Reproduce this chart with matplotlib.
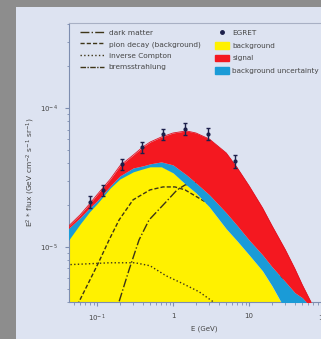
import numpy as np
import matplotlib
matplotlib.use("Agg")
import matplotlib.pyplot as plt
from matplotlib.patches import Rectangle, Patch
from matplotlib.lines import Line2D
from matplotlib.ticker import LogLocator, NullFormatter

# energy grid (GeV) and the three stacked bands
energy = [0.04, 0.06, 0.08, 0.1, 0.15, 0.2, 0.3, 0.4, 0.5, 0.7, 1, 1.5, 2, 3, 5, 7,
          10, 15, 20, 30, 40, 50, 70, 100]
bkg_top = [1.07e-5, 1.46e-5, 1.79e-5, 2.04e-5, 2.66e-5, 3.08e-5, 3.47e-5, 3.64e-5,
           3.77e-5, 3.77e-5, 3.41e-5, 2.79e-5, 2.45e-5, 1.94e-5, 1.35e-5, 1.10e-5,
           8.76e-6, 6.72e-6, 5.24e-6, 3.52e-6, 2.14e-6, 2.14e-6, 2.14e-6, 2.14e-6]
unc_top = [1.32e-5, 1.62e-5, 1.91e-5, 2.14e-5, 2.75e-5, 3.24e-5, 3.70e-5, 3.83e-5,
           3.96e-5, 4.09e-5, 3.89e-5, 3.30e-5, 2.89e-5, 2.37e-5, 1.76e-5, 1.42e-5,
           1.12e-5, 8.76e-6, 7.18e-6, 5.60e-6, 4.67e-6, 4.30e-6, 3.52e-6, 2.14e-6]
total = [1.37e-5, 1.70e-5, 2.04e-5, 2.37e-5, 3.08e-5, 3.83e-5, 4.59e-5, 5.24e-5,
         5.69e-5, 6.18e-5, 6.61e-5, 6.84e-5, 6.61e-5, 5.98e-5, 4.75e-5, 3.70e-5,
         2.75e-5, 1.91e-5, 1.42e-5, 9.51e-6, 6.95e-6, 5.33e-6, 3.70e-6, 2.14e-6]

# EGRET data points
egret_e = [0.081, 0.12, 0.21, 0.39, 0.74, 1.44, 2.9, 6.5]
egret_f = [2.11e-5, 2.57e-5, 3.96e-5, 5.24e-5, 6.50e-5, 7.06e-5, 6.50e-5, 4.16e-5]
egret_err = [2.0e-6, 2.4e-6, 3.6e-6, 4.8e-6, 6.0e-6, 7.0e-6, 6.5e-6, 4.5e-6]

# single components
pion_e = [0.05, 0.058, 0.081, 0.106, 0.144, 0.195, 0.298, 0.498, 0.738, 1.06, 1.44,
          3.07, 7.6, 18.9, 40.3]
pion_f = [2.5e-6, 4.02e-6, 5.79e-6, 7.80e-6, 1.12e-5, 1.56e-5, 2.18e-5, 2.57e-5,
          2.70e-5, 2.70e-5, 2.57e-5, 2.01e-5, 1.22e-5, 6.83e-6, 4.02e-6]
dm_e = [0.17, 0.195, 0.264, 0.357, 0.483, 0.785, 1.13, 1.44, 2.27, 4.15, 8.86, 18.9, 34.6]
dm_f = [2.5e-6, 4.02e-6, 6.83e-6, 1.12e-5, 1.56e-5, 2.07e-5, 2.57e-5, 2.79e-5,
        2.94e-5, 2.57e-5, 1.70e-5, 8.76e-6, 4.51e-6]
ic_e = [0.04, 0.081, 0.148, 0.316, 0.498, 0.81, 1.35, 2.2, 3.36, 5.6]
ic_f = [7.42e-6, 7.55e-6, 7.67e-6, 7.67e-6, 7.30e-6, 6.18e-6, 5.42e-6, 4.74e-6,
        4.02e-6, 3.24e-6]
brem_e = [0.04, 0.1, 1, 10]
brem_f = [3.0e-6, 2.8e-6, 2.0e-6, 1.0e-6]

txt = '#454545'
dash_c = '#3d3518'

fig = plt.figure(figsize=(3.21, 3.39), dpi=100, facecolor='#8d8d8d')
fig.patches.append(Rectangle((16/321, 0), 1, 332/339, transform=fig.transFigure,
                             facecolor='#dde3f1', edgecolor='none', zorder=-5))

ax = fig.add_axes([69/321, 37/339, 266/321, 279/339])
ax.set_facecolor('none')
ax.set_xscale('log')
ax.set_yscale('log')
ax.set_xlim(0.0428, 135)
ax.set_ylim(4.0e-6, 4.1e-4)

ax.fill_between(energy, 1e-7, bkg_top, color='#fff100', lw=0, zorder=1)
ax.plot(pion_e, pion_f, color=dash_c, lw=1.0, ls='--', dashes=(3, 1.5), zorder=2)
ax.plot(dm_e, dm_f, color=dash_c, lw=1.0, ls='-.', zorder=2)
ax.plot(ic_e, ic_f, color=dash_c, lw=1.0, ls=':', zorder=2)
ax.plot(brem_e, brem_f, color=dash_c, lw=1.0, ls=(0, (4, 1, 1, 1)), zorder=2)
ax.fill_between(energy, bkg_top, unc_top, color='#1a9bd7', lw=0, zorder=3)
ax.fill_between(energy, unc_top, total, color='#f41820', lw=0, zorder=3)
ax.plot(energy, total, color='#e01020', lw=0.6, zorder=4)
ax.errorbar(egret_e, egret_f, yerr=egret_err, fmt='o', ms=2, color='#1c1f4a',
            elinewidth=1, capsize=1.5, capthick=1, zorder=5)

for s in ['left', 'bottom']:
    ax.spines[s].set_color('#7d8db0')
ax.spines['top'].set_color('#a8b0c4')
ax.spines['top'].set_linewidth(0.8)
ax.spines['right'].set_visible(False)

ax.set_xticks([0.1, 1, 10, 100], ['$10^{-1}$', '1', '10', '$10^{2}$'])
ax.set_yticks([1e-5, 1e-4], ['$10^{-5}$', '$10^{-4}$'])
ax.xaxis.set_minor_locator(LogLocator(subs=np.arange(2, 10)))
ax.yaxis.set_minor_locator(LogLocator(subs=np.arange(2, 10)))
ax.xaxis.set_minor_formatter(NullFormatter())
ax.yaxis.set_minor_formatter(NullFormatter())
ax.tick_params(which='both', direction='out', color='#7d8db0', labelcolor=txt,
               labelsize=5)
ax.tick_params(which='major', length=3, pad=5)
ax.tick_params(which='minor', length=1.8)

ax.set_xlabel('E (GeV)', fontsize=5, color=txt)
ax.xaxis.set_label_coords(0.51, -0.085)
ax.set_ylabel(r'E$^2$ * flux (GeV cm$^{-2}$ s$^{-1}$ sr$^{-1}$)', fontsize=5.4,
              color=txt)
ax.yaxis.set_label_coords(-0.12, 0.466)

h1 = [Line2D([], [], color=dash_c, lw=1.0, ls='-.'),
      Line2D([], [], color=dash_c, lw=1.0, ls='--', dashes=(3, 1.5)),
      Line2D([], [], color=dash_c, lw=1.0, ls=':'),
      Line2D([], [], color=dash_c, lw=1.0, ls=(0, (4, 1, 1, 1)))]
l1 = ax.legend(h1, ['dark matter', 'pion decay (background)', 'inverse Compton',
                    'bremsstrahlung'],
               loc='upper left', bbox_to_anchor=(0.041, 0.977), frameon=False,
               fontsize=5.3, labelcolor=txt, handlelength=3.3, handletextpad=0.6,
               labelspacing=0.72, borderpad=0, borderaxespad=0)
ax.add_artist(l1)

h2 = [Line2D([], [], color='#1c1f4a', marker='o', ms=2.5, ls='none'),
      Patch(color='#fff100'), Patch(color='#f41820'), Patch(color='#1a9bd7')]
ax.legend(h2, ['EGRET', 'background', 'signal', 'background uncertainty'],
          loc='upper left', bbox_to_anchor=(0.549, 0.977), frameon=False,
          fontsize=5.2, labelcolor=txt, handlelength=2.0, handleheight=1.0,
          handletextpad=0.4, labelspacing=0.82, borderpad=0, borderaxespad=0)

fig.savefig('out.png', dpi=100, facecolor=fig.get_facecolor())
